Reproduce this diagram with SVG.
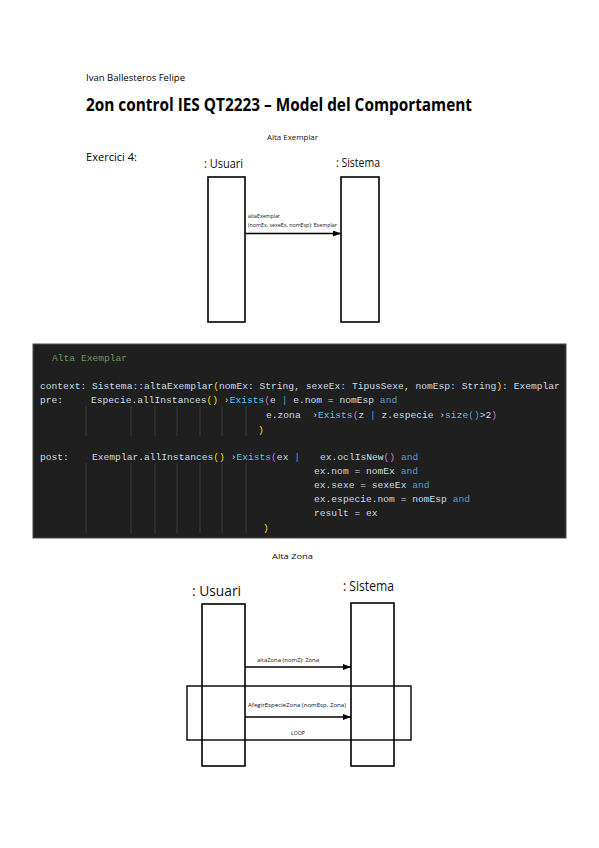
<svg xmlns="http://www.w3.org/2000/svg" width="599" height="848" viewBox="0 0 599 848">
<style>
.doc{font-family:"Open Sans","Liberation Sans",sans-serif;fill:#000}
.lbl{font-family:"Open Sans","Liberation Sans",sans-serif;fill:#111}
.box{fill:#fff;stroke:#000;stroke-width:1.6}
.frame{fill:none;stroke:#000;stroke-width:1.4}
.msg{stroke:#000;stroke-width:1.6;fill:none;marker-end:url(#ah)}
.code{font-family:"Liberation Mono",monospace;font-size:9.65px;fill:#c9dbe8;white-space:pre}
.kw{fill:#569cd6}.fn{fill:#4fc1ff}.y{fill:#ffd700}.m{fill:#da70d6}.cm{fill:#6a9955}
.guide{stroke:#3d3d3d;stroke-width:1}
</style>
<defs>
<marker id="ah" markerUnits="userSpaceOnUse" markerWidth="8" markerHeight="6" refX="8" refY="3" orient="auto">
<path d="M0,0 L8,3 L0,6 Z" fill="#000"/>
</marker>
</defs>
<rect width="599" height="848" fill="#fff"/>

<g id="header">
<text class="doc" x="86" y="81" font-size="9" textLength="99" lengthAdjust="spacingAndGlyphs">Ivan Ballesteros Felipe</text>
<text class="doc" x="86" y="111" font-size="18" font-weight="bold" textLength="386" lengthAdjust="spacingAndGlyphs">2on control IES QT2223 – Model del Comportament</text>
<text class="doc" x="86" y="161" font-size="10.5" textLength="51" lengthAdjust="spacingAndGlyphs">Exercici 4:</text>
</g>

<g id="diagram1">
<text class="lbl" x="267" y="140" font-size="7.5" textLength="51" lengthAdjust="spacingAndGlyphs">Alta Exemplar</text>
<g id="usuari1">
<text class="lbl" x="204" y="168" font-size="12.5" textLength="39" lengthAdjust="spacingAndGlyphs">: Usuari</text>
<rect class="box" x="208" y="177" width="37" height="145"/>
</g>
<g id="sistema1">
<text class="lbl" x="336" y="167" font-size="12.5" textLength="44" lengthAdjust="spacingAndGlyphs">: Sistema</text>
<rect class="box" x="341" y="177" width="38" height="145"/>
</g>
<g id="connectors1">
<line class="msg" x1="245" y1="233.5" x2="341" y2="233.5"/>
<text class="lbl" x="248" y="218" font-size="5" textLength="32" lengthAdjust="spacingAndGlyphs">altaExemplar</text>
<text class="lbl" x="248" y="226.5" font-size="5" textLength="89" lengthAdjust="spacingAndGlyphs">(nomEx, sexeEx, nomEsp): Exemplar</text>
</g>
</g>

<g id="codeblock">
<rect x="33" y="344" width="533" height="194" fill="#1f1f1f" stroke="#4a4a4a" stroke-width="1"/>
<g class="guides">
<line class="guide" x1="86" y1="406" x2="86" y2="436"/>
<line class="guide" x1="131" y1="406" x2="131" y2="436"/>
<line class="guide" x1="155" y1="406" x2="155" y2="436"/>
<line class="guide" x1="177" y1="406" x2="177" y2="436"/>
<line class="guide" x1="200" y1="406" x2="200" y2="436"/>
<line class="guide" x1="222" y1="406" x2="222" y2="436"/>
<line class="guide" x1="246" y1="406" x2="246" y2="436"/>
<line class="guide" x1="86" y1="463" x2="86" y2="533"/>
<line class="guide" x1="131" y1="463" x2="131" y2="533"/>
<line class="guide" x1="155" y1="463" x2="155" y2="533"/>
<line class="guide" x1="177" y1="463" x2="177" y2="533"/>
<line class="guide" x1="200" y1="463" x2="200" y2="533"/>
<line class="guide" x1="222" y1="463" x2="222" y2="533"/>
<line class="guide" x1="246" y1="463" x2="246" y2="533"/>
</g>
<text class="code cm" x="52" y="361">Alta Exemplar</text>
<text class="code" x="40" y="389">context: Sistema::altaExemplar<tspan class="y">(</tspan>nomEx: String, sexeEx: TipusSexe, nomEsp: String<tspan class="y">)</tspan>: Exemplar</text>
<text class="code" x="40" y="403">pre:</text>
<text class="code" x="91" y="403">Especie.allInstances<tspan class="y">()</tspan> ›<tspan class="fn">Exists</tspan><tspan class="m">(</tspan>e <tspan class="kw">|</tspan> e.nom = nomEsp <tspan class="kw">and</tspan></text>
<text class="code" x="266" y="418">e.zona  ›<tspan class="fn">Exists</tspan><tspan class="m">(</tspan>z <tspan class="kw">|</tspan> z.especie ›<tspan class="fn">size</tspan><tspan class="kw">()</tspan>&gt;2<tspan class="m">)</tspan></text>
<text class="code y" x="258" y="433">)</text>
<text class="code" x="40" y="460">post:</text>
<text class="code" x="92" y="460">Exemplar.allInstances<tspan class="y">()</tspan> ›<tspan class="fn">Exists</tspan><tspan class="m">(</tspan>ex <tspan class="kw">|</tspan></text>
<text class="code" x="320" y="460">ex.oclIsNew<tspan class="m">()</tspan> <tspan class="kw">and</tspan></text>
<text class="code" x="314" y="474">ex.nom = nomEx <tspan class="kw">and</tspan></text>
<text class="code" x="314" y="488">ex.sexe = sexeEx <tspan class="kw">and</tspan></text>
<text class="code" x="314" y="502">ex.especie.nom = nomEsp <tspan class="kw">and</tspan></text>
<text class="code" x="314" y="516">result = ex</text>
<text class="code y" x="263" y="531">)</text>
</g>

<g id="diagram2">
<text class="lbl" x="272" y="559" font-size="8" textLength="41" lengthAdjust="spacingAndGlyphs">Alta Zona</text>
<g id="usuari2">
<text class="lbl" x="192" y="596" font-size="14" textLength="49" lengthAdjust="spacingAndGlyphs">: Usuari</text>
<rect class="box" x="202" y="604" width="43" height="162"/>
</g>
<g id="sistema2">
<text class="lbl" x="343" y="591" font-size="14" textLength="51" lengthAdjust="spacingAndGlyphs">: Sistema</text>
<rect class="box" x="351" y="603" width="43" height="163"/>
</g>
<g id="loop">
<rect class="frame" x="187" y="686" width="224" height="54"/>
<text class="lbl" x="291" y="735" font-size="5.5" textLength="14" lengthAdjust="spacingAndGlyphs">LOOP</text>
</g>
<g id="connectors2">
<line class="msg" x1="245" y1="667" x2="351" y2="667"/>
<text class="lbl" x="257" y="662" font-size="5.5" textLength="62" lengthAdjust="spacingAndGlyphs">altaZona (nomZ): Zona</text>
<line class="msg" x1="245" y1="717" x2="351" y2="717"/>
<text class="lbl" x="248" y="707" font-size="5.5" textLength="98" lengthAdjust="spacingAndGlyphs">AfegirEspecieZona (nomEsp, Zona)</text>
</g>
</g>
</svg>
